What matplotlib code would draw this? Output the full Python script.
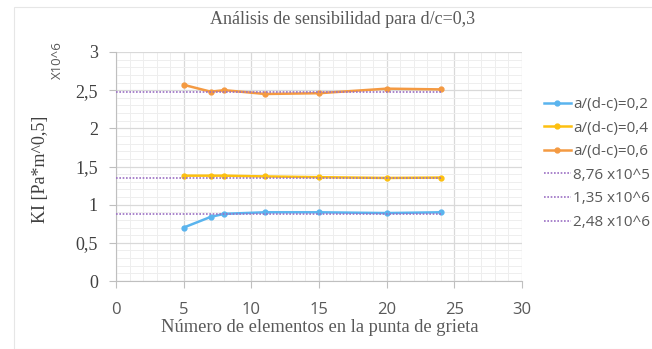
import matplotlib.pyplot as plt
from matplotlib.patches import Rectangle
from matplotlib.ticker import MultipleLocator, FuncFormatter

# Mesh refinement study: number of elements at the crack tip
elementos = [5, 7, 8, 11, 15, 20, 24]
ki_02 = [0.70, 0.84, 0.88, 0.90, 0.90, 0.89, 0.90]
ki_04 = [1.38, 1.38, 1.38, 1.37, 1.36, 1.35, 1.355]
ki_06 = [2.57, 2.48, 2.50, 2.45, 2.46, 2.52, 2.51]

# analytical reference values (x10^6)
ref_vals = [0.876, 1.35, 2.48]
ref_labels = ["8,76 x10^5", "1,35 x10^6", "2,48 x10^6"]
ref_span = [0, 24]

serif = "Liberation Serif"
sans = "Open Sans"

fig = plt.figure(figsize=(6.52, 3.49), dpi=100)
ax = fig.add_axes([116 / 652, 1 - 281 / 349, (522 - 116) / 652, (281 - 52) / 349])

# chart frame
fig.patches.append(Rectangle((14 / 652, 0), 1, 1 - 7 / 349, transform=fig.transFigure,
                             fill=False, edgecolor="#e6e6e6", linewidth=0.8, zorder=0))

ax.plot(elementos, ki_02, color="#5ab4ee", lw=1.8, marker="o", ms=3.5, label="a/(d-c)=0,2", zorder=3)
ax.plot(elementos, ki_04, color="#fdc010", lw=1.8, marker="o", ms=3.5, label="a/(d-c)=0,4", zorder=3)
ax.plot(elementos, ki_06, color="#f49a42", lw=1.8, marker="o", ms=3.5, label="a/(d-c)=0,6", zorder=3)
for v, lab in zip(ref_vals, ref_labels):
    ax.plot(ref_span, [v, v], color="#9b6fc4", lw=1.2, ls=(0, (1, 1)), label=lab, zorder=4)

ax.set_xlim(0, 30)
ax.set_ylim(0, 3)
ax.xaxis.set_major_locator(MultipleLocator(5))
ax.xaxis.set_minor_locator(MultipleLocator(1))
ax.yaxis.set_major_locator(MultipleLocator(0.5))
ax.yaxis.set_minor_locator(MultipleLocator(0.1))
ax.grid(which="major", color="#d9d9d9", lw=0.9)
ax.grid(which="minor", color="#eeeeee", lw=0.7)
ax.set_axisbelow(True)

ax.yaxis.set_major_formatter(FuncFormatter(lambda v, p: f"{v:g}".replace(".", ",")))
for s in ["top", "right"]:
    ax.spines[s].set_visible(False)
for s in ["left", "bottom"]:
    ax.spines[s].set_color("#bfbfbf")
ax.tick_params(which="major", length=5, color="#bfbfbf")
ax.tick_params(which="minor", length=0)
ax.tick_params(axis="x", labelsize=12, labelcolor="#595959", pad=10)
ax.tick_params(axis="y", labelsize=13, labelcolor="#404040", pad=8)
for t in ax.get_xticklabels():
    t.set_fontfamily(sans)
for t in ax.get_yticklabels():
    t.set_fontfamily(serif)

fig.text(343 / 652, 1 - 19 / 349, "Análisis de sensibilidad para d/c=0,3", ha="center", va="center",
         fontsize=13, family=serif, color="#595959")
fig.text(320 / 652, 1 - 327 / 349, "Número de elementos en la punta de grieta", ha="center", va="center",
         fontsize=13.3, family=serif, color="#595959")
fig.text(40 / 652, 1 - 169 / 349, "KI [Pa*m^0,5]", ha="center", va="center", rotation=90,
         fontsize=13, family=serif, color="#404040")
fig.text(57 / 652, 1 - 60 / 349, "X10^6", ha="center", va="center", rotation=90,
         fontsize=9.5, family=sans, color="#595959")

fig.legend(loc="upper left", bbox_to_anchor=(538 / 652, 1 - 91 / 349), frameon=False,
           prop={"family": sans, "size": 11}, labelcolor="#595959", handlelength=1.75,
           handletextpad=0.15, labelspacing=0.56, borderaxespad=0)

fig.savefig("out.png", dpi=100)
